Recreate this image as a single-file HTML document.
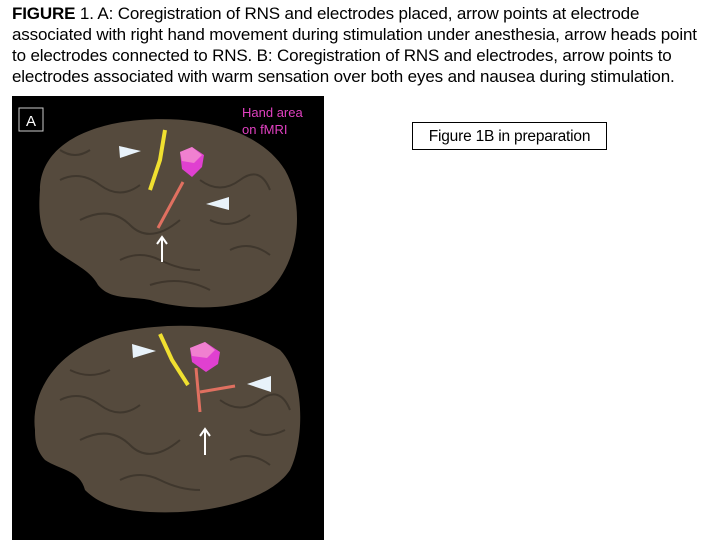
<!DOCTYPE html>
<html><head><meta charset="utf-8"><style>
body{margin:0;width:720px;height:540px;background:#fff;position:relative;overflow:hidden;font-family:"Liberation Sans",sans-serif}
#cap{position:absolute;left:12px;top:3px;width:710px;font-size:17px;line-height:21px;color:#000;white-space:nowrap;letter-spacing:-0.15px}
#box{position:absolute;left:412px;top:122px;width:195px;height:28px;border:1px solid #000;font-size:15.5px;line-height:27px;text-align:center;box-sizing:border-box;letter-spacing:-0.2px}
</style></head><body>
<div id="cap"><b>FIGURE</b> 1. A: Coregistration of RNS and electrodes placed, arrow points at electrode<br>associated with right hand movement during stimulation under anesthesia, arrow heads point<br>to electrodes connected to RNS. B: Coregistration of RNS and electrodes, arrow points to<br>electrodes associated with warm sensation over both eyes and nausea during stimulation.</div>
<div id="box">Figure 1B in preparation</div>
<svg style="position:absolute;left:0;top:0" width="720" height="540">
<rect x="12" y="96" width="312" height="444" fill="#000"/>
<rect x="19" y="108" width="24" height="23" fill="none" stroke="#ccc" stroke-width="1"/>
<text x="31" y="126" fill="#fff" font-size="15" text-anchor="middle" font-family="Liberation Sans">A</text>
<text x="242" y="117" fill="#e040c0" font-size="13" font-family="Liberation Sans">Hand area</text>
<text x="242" y="134" fill="#e040c0" font-size="13" font-family="Liberation Sans">on fMRI</text>
<path d="M40,190 C40,150 80,125 140,120 C200,115 260,130 285,170 C305,205 300,260 270,290 C245,310 190,312 150,300 C130,296 110,300 98,285 C90,270 75,265 55,250 C40,235 38,215 40,190Z" fill="#554a3d"/>
<path d="M35,430 C30,390 60,345 120,332 C180,320 240,325 280,350 C305,375 305,440 290,470 C270,500 210,515 150,512 C120,510 100,505 85,490 C80,470 60,470 45,460 C36,450 35,440 35,430Z" fill="#554a3d"/>
<g stroke="#3a3229" stroke-width="2" fill="none" opacity=".8">
<path d="M60,180 q20,-10 40,5 t40,0 M80,220 q30,-15 50,5 t50,-5 M120,260 q20,-10 40,0 t40,10 M200,180 q20,15 40,0 t30,10 M230,250 q20,-10 40,5 M60,150 q15,10 30,0 M210,220 q20,10 40,-5 M150,285 q30,-10 60,5"/>
<path d="M60,400 q20,-10 40,5 t40,0 M80,440 q30,-15 50,5 t50,-5 M120,480 q20,-10 40,0 t40,10 M220,400 q20,15 40,0 t30,10 M230,460 q20,-10 40,5 M70,370 q20,10 40,0 M250,430 q15,10 35,0"/>
</g>
<path d="M165,130 L160,160 L150,190" stroke="#f0e030" stroke-width="4" fill="none"/>
<path d="M160,334 L172,360 L188,385" stroke="#f0e030" stroke-width="4" fill="none"/>
<path d="M180,152 l12,-5 l12,8 l-2,12 l-10,10 l-10,-8 z" fill="#e040d0"/>
<path d="M180,152 l12,-5 l10,8 l-8,8 l-12,-2 z" fill="#f080d0"/>
<path d="M190,348 l15,-6 l15,10 l-2,12 l-12,8 l-14,-10 z" fill="#e040d0"/>
<path d="M190,348 l15,-6 l10,8 l-8,8 l-15,-2 z" fill="#f080d0"/>
<path d="M183,182 L158,228" stroke="#e07060" stroke-width="3" fill="none"/>
<path d="M196,368 L200,412 M200,392 L235,386" stroke="#e07060" stroke-width="3" fill="none"/>
<path d="M119,146 L141,151 L120,158Z" fill="#e8f2fa"/>
<path d="M229,197 L206,204 L229,210Z" fill="#e8f2fa"/>
<path d="M132,344 L156,351 L133,358Z" fill="#e8f2fa"/>
<path d="M271,376 L247,384 L271,392Z" fill="#e8f2fa"/>
<g stroke="#fff" stroke-width="2" fill="none">
<path d="M162,262 V238 M157,244 L162,237 L167,244"/>
<path d="M205,455 V430 M200,436 L205,429 L210,436"/>
</g>
</svg>
</body></html>
